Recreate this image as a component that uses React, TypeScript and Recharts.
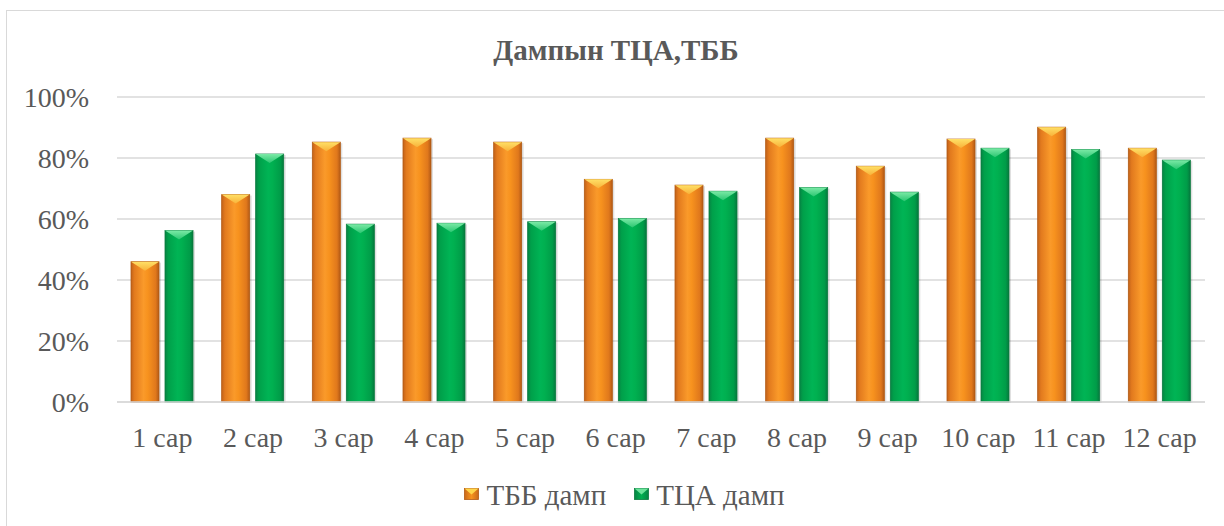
import React from "react";
import { BarChart, Bar, XAxis, YAxis, CartesianGrid } from "recharts";

const categories = ["1 сар", "2 сар", "3 сар", "4 сар", "5 сар", "6 сар", "7 сар", "8 сар", "9 сар", "10 сар", "11 сар", "12 сар"];
const tbbValues = [46, 68, 85.2, 86.5, 85.2, 73, 71.1, 86.5, 77.3, 86.2, 90.1, 83.2];
const tcaValues = [56.2, 81.3, 58.3, 58.6, 59.1, 60.2, 69.1, 70.3, 68.8, 83.2, 82.8, 79.3];
const yTicks = [0, 20, 40, 60, 80, 100];
const seriesNames = ["ТББ дамп", "ТЦА дамп"];
const title = "Дампын ТЦА,ТББ";

const data = categories.map((c, i) => ({ name: c, tbb: tbbValues[i], tca: tcaValues[i] }));

const FONT = '"Liberation Serif", "Times New Roman", serif';
const TEXT = "#595959";

const makeShape = (kind: "o" | "g") => (props: any) => {
  const { x, y, width, height } = props;
  if (!height || height <= 0) return null;
  const bev = Math.min(9, height / 2);
  const edge = kind === "o" ? "#B25A14" : "#0A7A3E";
  const tri = kind === "o" ? "url(#topO)" : "url(#topG)";
  return (
    <g>
      <rect x={x + 2} y={y + 1} width={width} height={height} fill="rgba(0,0,0,0.12)" />
      <rect x={x} y={y} width={width} height={height} fill={kind === "o" ? "url(#gradO)" : "url(#gradG)"} stroke={edge} strokeWidth={0.8} />
      <polygon points={`${x},${y} ${x + width},${y} ${x + width / 2},${y + bev}`} fill={tri} />
    </g>
  );
};

const LegendIcon = ({ kind }: { kind: "o" | "g" }) => (
  <svg width={15} height={12} style={{ marginRight: 7, verticalAlign: "baseline", position: "relative", top: -5 }}>
    <defs>
      <linearGradient id={`li${kind}`} x1="0" y1="0" x2="1" y2="0">
        <stop offset="0" stopColor={kind === "o" ? "#C9691A" : "#078444"} />
        <stop offset="0.5" stopColor={kind === "o" ? "#F7931E" : "#00B050"} />
        <stop offset="1" stopColor={kind === "o" ? "#C9691A" : "#078444"} />
      </linearGradient>
    </defs>
    <rect x={0.5} y={0.5} width={14} height={11} fill={`url(#li${kind})`} stroke={kind === "o" ? "#B25A14" : "#0A7A3E"} strokeWidth={0.8} />
    <polygon points="0.5,0.5 14.5,0.5 7.5,6.5" fill={kind === "o" ? "#FFD54A" : "#6BE39A"} />
  </svg>
);

export default function App() {
  return (
    <div style={{ position: "fixed", left: 0, top: 0, width: 1224, height: 526, background: "#fff", overflow: "hidden", fontFamily: FONT }}>
      <div style={{ position: "absolute", left: 6, top: 10, width: 1240, height: 540, border: "1.5px solid #d9d9d9", boxSizing: "border-box" }} />
      <div style={{ position: "absolute", left: 0, width: 1232, top: 34, textAlign: "center", fontWeight: "bold", fontSize: 29, lineHeight: "normal", color: TEXT, whiteSpace: "nowrap" }}>
        {title}
      </div>
      <div style={{ position: "absolute", left: 0, top: 0 }}>
        <BarChart width={1224} height={526} data={data} margin={{ top: 97, right: 19, bottom: 84, left: 0 }} barGap={6} barSize={28}>
          <defs>
            <linearGradient id="gradO" x1="0" y1="0" x2="1" y2="0">
              <stop offset="0" stopColor="#C2621A" />
              <stop offset="0.12" stopColor="#E27A1E" />
              <stop offset="0.45" stopColor="#FA9A2A" />
              <stop offset="0.6" stopColor="#F7921E" />
              <stop offset="0.88" stopColor="#E0781C" />
              <stop offset="1" stopColor="#B35A16" />
            </linearGradient>
            <linearGradient id="gradG" x1="0" y1="0" x2="1" y2="0">
              <stop offset="0" stopColor="#078444" />
              <stop offset="0.12" stopColor="#00A04A" />
              <stop offset="0.45" stopColor="#00B455" />
              <stop offset="0.6" stopColor="#00B050" />
              <stop offset="0.88" stopColor="#009C48" />
              <stop offset="1" stopColor="#06783E" />
            </linearGradient>
            <linearGradient id="topO" x1="0" y1="0" x2="0" y2="1">
              <stop offset="0" stopColor="#FFE066" />
              <stop offset="1" stopColor="#F8B23A" />
            </linearGradient>
            <linearGradient id="topG" x1="0" y1="0" x2="0" y2="1">
              <stop offset="0" stopColor="#7BEAA6" />
              <stop offset="1" stopColor="#2CC672" />
            </linearGradient>
          </defs>
          <CartesianGrid vertical={false} stroke="#d9d9d9" strokeWidth={1.5} />
          <XAxis
            dataKey="name"
            axisLine={{ stroke: "#d9d9d9", strokeWidth: 1.5 }}
            tickLine={false}
            tickMargin={19}
            height={40}
            tick={{ fill: TEXT, fontSize: 28, fontFamily: FONT }}
            interval={0}
          />
          <YAxis
            width={117}
            domain={[0, 100]}
            ticks={yTicks}
            axisLine={false}
            tickLine={false}
            tickMargin={22}
            tickFormatter={(v: number) => `${v}%`}
            tick={{ fill: TEXT, fontSize: 28, fontFamily: FONT }}
          />
          <Bar dataKey="tbb" name={seriesNames[0]} isAnimationActive={false} shape={makeShape("o")} />
          <Bar dataKey="tca" name={seriesNames[1]} isAnimationActive={false} shape={makeShape("g")} />
        </BarChart>
      </div>
      <div style={{ position: "absolute", left: 0, width: 1249, top: 479, textAlign: "center", fontSize: 29, lineHeight: "normal", color: TEXT, whiteSpace: "nowrap" }}>
        <span style={{ marginRight: 28 }}>
          <LegendIcon kind="o" />
          {seriesNames[0]}
        </span>
        <span>
          <LegendIcon kind="g" />
          {seriesNames[1]}
        </span>
      </div>
    </div>
  );
}
